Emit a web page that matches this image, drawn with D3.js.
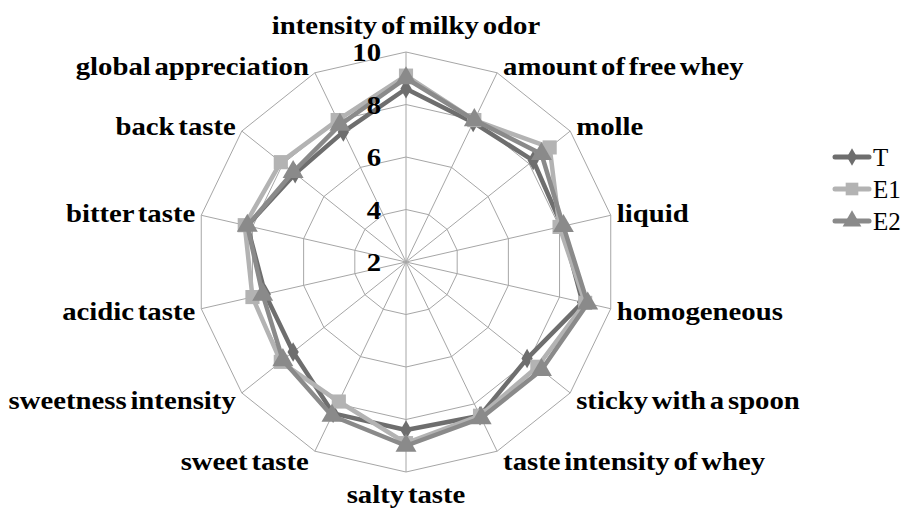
<!DOCTYPE html>
<html>
<head>
<meta charset="utf-8">
<script src="https://cdn.jsdelivr.net/npm/d3@7"></script>
<style>
  body { margin: 0; background: #fff; }
</style>
</head>
<body>
<svg id="chart"></svg>
<script>
// attributs sensoriels, dans le sens horaire depuis le haut
const attributes = ['intensity of milky odor', 'amount of free whey', 'molle', 'liquid',
    'homogeneous', 'sticky with a spoon', 'taste intensity of whey', 'salty taste',
    'sweet taste', 'sweetness intensity', 'acidic taste', 'bitter taste',
    'back taste', 'global appreciation'];

const valuesT  = [8.6, 7.9, 8.2, 8.1, 8.9, 7.9, 8.5, 8.4, 8.4, 7.5, 7.5, 8.2, 7.4, 7.5];
const valuesE1 = [9.1, 8.0, 9.0, 8.0, 9.0, 8.4, 8.5, 8.9, 7.9, 8.1, 8.0, 8.3, 8.1, 8.0];
const valuesE2 = [9.0, 8.0, 8.6, 8.15, 9.1, 8.6, 8.6, 9.0, 8.5, 8.0, 7.6, 8.2, 7.5, 7.8];

const seriesNames = ['T', 'E1', 'E2'];
const tickValues = [2, 4, 6, 8, 10];

const FONT = '"Liberation Serif", "Times New Roman", serif';

const width = 924;
const height = 508;
const cx = 406, cy = 262, R = 210;

const svg = d3.select('#chart')
    .attr('width', width)
    .attr('height', height);

const r = d3.scaleLinear().domain([2, 10]).range([0, R]);
const angle = d3.scaleLinear().domain([0, attributes.length]).range([0, 2 * Math.PI]);

function pt(i, v) {
    const a = angle(i);
    return [cx + r(v) * Math.sin(a), cy - r(v) * Math.cos(a)];
}

function boldText(sel) {
    return sel.style('font-family', FONT)
        .style('font-weight', 'bold')
        .style('font-size', '25px')
        .attr('fill', '#000');
}

const g = svg.append('g');

// anneaux
tickValues.slice(1).forEach(t => {
    g.append('polygon')
        .attr('points', attributes.map((d, i) => pt(i, t).join(',')).join(' '))
        .attr('fill', 'none')
        .attr('stroke', '#a6a6a6')
        .attr('stroke-width', 1);
});

// rayons
attributes.forEach((d, i) => {
    const p = pt(i, 10);
    g.append('line')
        .attr('x1', cx).attr('y1', cy)
        .attr('x2', p[0]).attr('y2', p[1])
        .attr('stroke', '#a6a6a6')
        .attr('stroke-width', 1);
});

// étiquettes des attributs
attributes.forEach((d, i) => {
    const a = angle(i);
    const s = Math.sin(a), c = Math.cos(a);
    const p = pt(i, 10);
    let x = p[0], y = p[1], anchor;
    if (Math.abs(s) < 0.01) {
        anchor = 'middle';
        y += c > 0 ? -26 : 23;
    } else {
        anchor = s > 0 ? 'start' : 'end';
        x += s > 0 ? 6 : -6;
        y += c > 0 ? -c * 7 : -c * 12;
    }
    g.append('text')
        .attr('transform', `translate(${x},${y}) scale(1.15,1)`)
        .attr('text-anchor', anchor)
        .attr('dominant-baseline', 'central')
        .call(boldText)
        .style('word-spacing', '-3px')
        .text(d);
});

// séries
const series = [
    { name: 'T', values: valuesT, color: '#6e6e6e', symbol: d3.symbolDiamond, size: 110 },
    { name: 'E1', values: valuesE1, color: '#b3b3b3', symbol: d3.symbolSquare, size: 200 },
    { name: 'E2', values: valuesE2, color: '#8a8a8a', symbol: d3.symbolTriangle, size: 190 }
];

const line = d3.lineRadial()
    .angle((d, i) => angle(i))
    .radius(d => r(d))
    .curve(d3.curveLinearClosed);

series.forEach(s => {
    const sg = g.append('g');
    sg.append('path')
        .attr('d', line(s.values))
        .attr('transform', `translate(${cx},${cy})`)
        .attr('fill', 'none')
        .attr('stroke', s.color)
        .attr('stroke-width', 4.5)
        .attr('stroke-linejoin', 'round');
    sg.selectAll('path.mark')
        .data(s.values)
        .enter()
        .append('path')
        .attr('class', 'mark')
        .attr('d', d3.symbol().type(s.symbol).size(s.size))
        .attr('transform', (d, i) => `translate(${pt(i, d).join(',')})`)
        .attr('fill', s.color);
});

// graduations, au-dessus des séries
tickValues.forEach(t => {
    g.append('text')
        .attr('transform', `translate(${cx - 25},${cy - r(t) + 1}) scale(1.15,1)`)
        .attr('text-anchor', 'end')
        .attr('dominant-baseline', 'central')
        .call(boldText)
        .text(t);
});

// légende
const legend = svg.append('g').attr('transform', 'translate(835,157)');
series.forEach((s, i) => {
    const lg = legend.append('g').attr('transform', `translate(0,${i * 32})`);
    lg.append('line')
        .attr('x1', 0).attr('x2', 34)
        .attr('stroke', s.color)
        .attr('stroke-width', 5)
        .attr('stroke-linecap', 'round');
    lg.append('path')
        .attr('d', d3.symbol().type(s.symbol).size(s.size * 0.8))
        .attr('transform', 'translate(17,0)')
        .attr('fill', s.color);
    lg.append('text')
        .attr('x', 38)
        .attr('dominant-baseline', 'central')
        .style('font-family', FONT)
        .style('font-size', '25px')
        .text(s.name);
});
</script>
</body>
</html>
